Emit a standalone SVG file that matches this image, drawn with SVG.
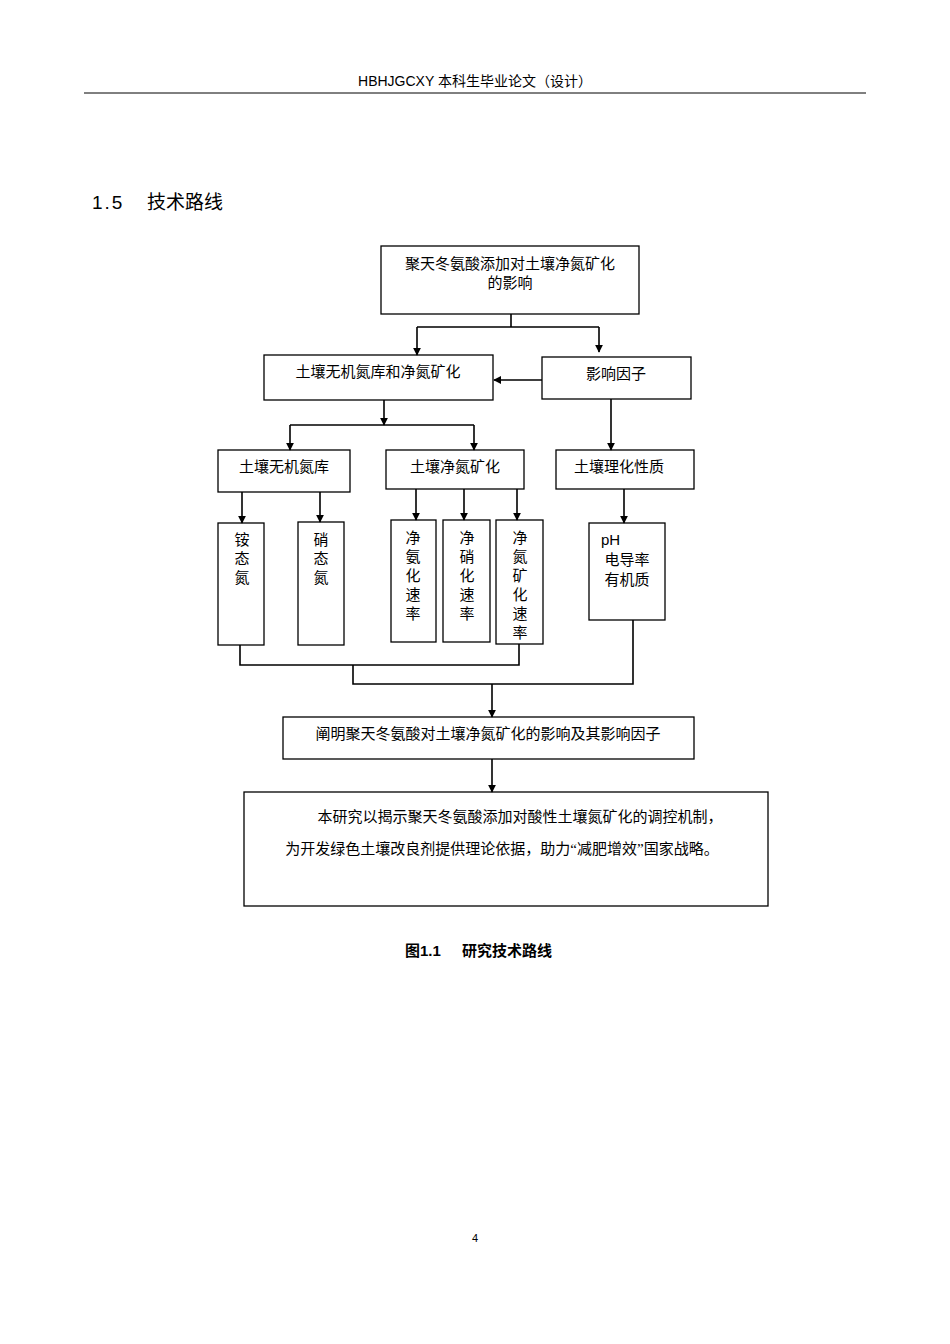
<svg xmlns="http://www.w3.org/2000/svg" width="950" height="1344" viewBox="0 0 950 1344">
<style>
.b{fill:#fff;stroke:#000;stroke-width:1.3}
.l{fill:none;stroke:#000;stroke-width:1.6}
.t{font-family:"Liberation Serif","Noto Sans CJK SC",serif;font-size:15px;fill:#000;text-anchor:middle}
.s{font-family:"Liberation Sans","Noto Sans CJK SC",sans-serif;fill:#000}
</style>
<defs><marker id="a" viewBox="0 0 10 10" refX="9" refY="5" markerWidth="5" markerHeight="5" orient="auto"><path d="M0,0L10,5L0,10z" fill="#000"/></marker></defs>
<rect width="950" height="1344" fill="#fff"/>
<text class="s" x="475" y="86" font-size="14" text-anchor="middle">HBHJGCXY 本科生毕业论文（设计）</text>
<line x1="84" y1="93" x2="866" y2="93" stroke="#000" stroke-width="1"/>
<text class="s" x="92" y="209" font-size="19" letter-spacing="2">1.5</text>
<text class="s" x="147" y="209" font-size="19">技术路线</text>
<g id="n1"><rect class="b" x="381" y="246" width="258" height="68"/><text class="t" x="510" y="269">聚天冬氨酸添加对土壤净氮矿化</text><text class="t" x="510" y="288">的影响</text></g>
<g id="n2"><rect class="b" x="264" y="355" width="229" height="45"/><text class="t" x="378" y="377">土壤无机氮库和净氮矿化</text></g>
<g id="n3"><rect class="b" x="542" y="357" width="149" height="42"/><text class="t" x="616" y="379">影响因子</text></g>
<g id="n4"><rect class="b" x="218" y="450" width="132" height="42"/><text class="t" x="284" y="472">土壤无机氮库</text></g>
<g id="n5"><rect class="b" x="386" y="450" width="138" height="39"/><text class="t" x="455" y="472">土壤净氮矿化</text></g>
<g id="n6"><rect class="b" x="556" y="450" width="138" height="39"/><text class="t" x="619" y="472">土壤理化性质</text></g>
<g id="n7"><rect class="b" x="218" y="523" width="46" height="122"/><text class="t" x="242" y="545">铵</text><text class="t" x="242" y="564">态</text><text class="t" x="242" y="583">氮</text></g>
<g id="n8"><rect class="b" x="298" y="522" width="46" height="123"/><text class="t" x="321" y="545">硝</text><text class="t" x="321" y="564">态</text><text class="t" x="321" y="583">氮</text></g>
<g id="n9"><rect class="b" x="391" y="520" width="45" height="122"/><text class="t" x="413" y="543">净</text><text class="t" x="413" y="562">氨</text><text class="t" x="413" y="581">化</text><text class="t" x="413" y="600">速</text><text class="t" x="413" y="619">率</text></g>
<g id="n10"><rect class="b" x="443" y="520" width="47" height="122"/><text class="t" x="467" y="543">净</text><text class="t" x="467" y="562">硝</text><text class="t" x="467" y="581">化</text><text class="t" x="467" y="600">速</text><text class="t" x="467" y="619">率</text></g>
<g id="n11"><rect class="b" x="496" y="520" width="47" height="124"/><text class="t" x="520" y="543">净</text><text class="t" x="520" y="562">氮</text><text class="t" x="520" y="581">矿</text><text class="t" x="520" y="600">化</text><text class="t" x="520" y="619">速</text><text class="t" x="520" y="638">率</text></g>
<g id="n12"><rect class="b" x="589" y="523" width="76" height="97"/><text class="s" x="601" y="545" font-size="15">pH</text><text class="t" x="627" y="565">电导率</text><text class="t" x="627" y="585">有机质</text></g>
<g id="n13"><rect class="b" x="283" y="717" width="411" height="42"/><text class="t" x="488" y="739">阐明聚天冬氨酸对土壤净氮矿化的影响及其影响因子</text></g>
<g id="n14"><rect class="b" x="244" y="792" width="524" height="114"/><text class="t" x="520" y="822" font-size="16">本研究以揭示聚天冬氨酸添加对酸性土壤氮矿化的调控机制，</text><text class="t" x="502" y="854" font-size="16">为开发绿色土壤改良剂提供理论依据，助力“减肥增效”国家战略。</text></g>
<g id="edges">
<path class="l" d="M511,314V327M417,327H599"/>
<path class="l" marker-end="url(#a)" d="M417,327V355"/>
<path class="l" marker-end="url(#a)" d="M599,327V352"/>
<path class="l" marker-end="url(#a)" d="M542,380H494"/>
<path class="l" marker-end="url(#a)" d="M384,400V425"/>
<path class="l" d="M290,425H474"/>
<path class="l" marker-end="url(#a)" d="M290,425V450"/>
<path class="l" marker-end="url(#a)" d="M474,425V450"/>
<path class="l" marker-end="url(#a)" d="M611,399V450"/>
<path class="l" marker-end="url(#a)" d="M242,492V523"/>
<path class="l" marker-end="url(#a)" d="M320,492V522"/>
<path class="l" marker-end="url(#a)" d="M416,489V520"/>
<path class="l" marker-end="url(#a)" d="M464,489V520"/>
<path class="l" marker-end="url(#a)" d="M517,489V520"/>
<path class="l" marker-end="url(#a)" d="M624,489V523"/>
<path class="l" d="M240,645V665H519V644M353,665V684H633V620"/>
<path class="l" marker-end="url(#a)" d="M492,684V717"/>
<path class="l" marker-end="url(#a)" d="M492,759V792"/>
</g>
<text class="s" x="405" y="956" font-size="15" font-weight="bold">图1.1</text>
<text class="s" x="462" y="956" font-size="15" font-weight="bold">研究技术路线</text>
<text class="s" x="475" y="1242" font-size="11" text-anchor="middle">4</text>
</svg>
